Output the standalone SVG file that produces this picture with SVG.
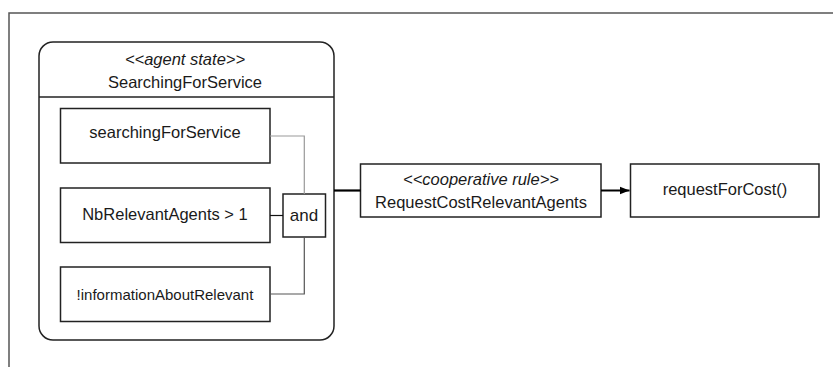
<svg xmlns="http://www.w3.org/2000/svg" width="833" height="367" viewBox="0 0 833 367">
<defs>
<style>
text{font-family:"Liberation Sans",Arial,sans-serif;font-size:16.5px;fill:#1a1a1a;text-anchor:middle}
.st{font-style:italic}
.box{fill:#fff;stroke:#222;stroke-width:1.5}
.frame{fill:none;stroke:#555;stroke-width:1.5}
.c{fill:none;stroke-width:1.2}
</style>
<marker id="arr" viewBox="0 0 10 10" refX="10" refY="5" markerWidth="5" markerHeight="5" orient="auto" markerUnits="strokeWidth">
<path d="M0,1 L10,5 L0,9 z" fill="#000"/>
</marker>
</defs>
<rect width="833" height="367" fill="#fff"/>
<path class="frame" d="M9,367 V13 H833"/>
<g id="agentState">
<rect class="box" x="39" y="42" width="295" height="298" rx="14" ry="14"/>
<line x1="39" y1="97" x2="334" y2="97" stroke="#222" stroke-width="1.5"/>
<text class="st" x="185" y="65">&lt;&lt;agent state&gt;&gt;</text>
<text x="185" y="88">SearchingForService</text>
</g>
<g id="cond1">
<rect class="box" x="60.5" y="108.5" width="209.5" height="54.5"/>
<text x="165" y="138">searchingForService</text>
</g>
<g id="cond2">
<rect class="box" x="60.5" y="188" width="209.5" height="54.5"/>
<text x="165" y="220">NbRelevantAgents &gt; 1</text>
</g>
<g id="cond3">
<rect class="box" x="60.5" y="267" width="209.5" height="54.5"/>
<text x="165" y="300" style="font-size:15px">!informationAboutRelevant</text>
</g>
<g id="and">
<rect class="box" x="283" y="194" width="42.5" height="43"/>
<text x="304" y="221" style="font-size:17px">and</text>
</g>
<g id="rule">
<rect class="box" x="360.5" y="164" width="240.5" height="53"/>
<text class="st" x="481" y="185">&lt;&lt;cooperative rule&gt;&gt;</text>
<text x="481" y="208">RequestCostRelevantAgents</text>
</g>
<g id="action">
<rect class="box" x="630.5" y="164" width="188.5" height="53"/>
<text x="725" y="195">requestForCost()</text>
</g>
<g id="connectors">
<path class="c" stroke="#999" d="M270,136 H304.3 V194"/>
<path class="c" stroke="#111" d="M270,215.5 H283"/>
<path class="c" stroke="#555" d="M304.3,237 V294 H270"/>
<path fill="none" stroke="#000" stroke-width="2.2" d="M334,190.5 H360.5"/>
<path fill="none" stroke="#000" stroke-width="2" d="M601,190.5 H629.5" marker-end="url(#arr)"/>
</g>
</svg>
